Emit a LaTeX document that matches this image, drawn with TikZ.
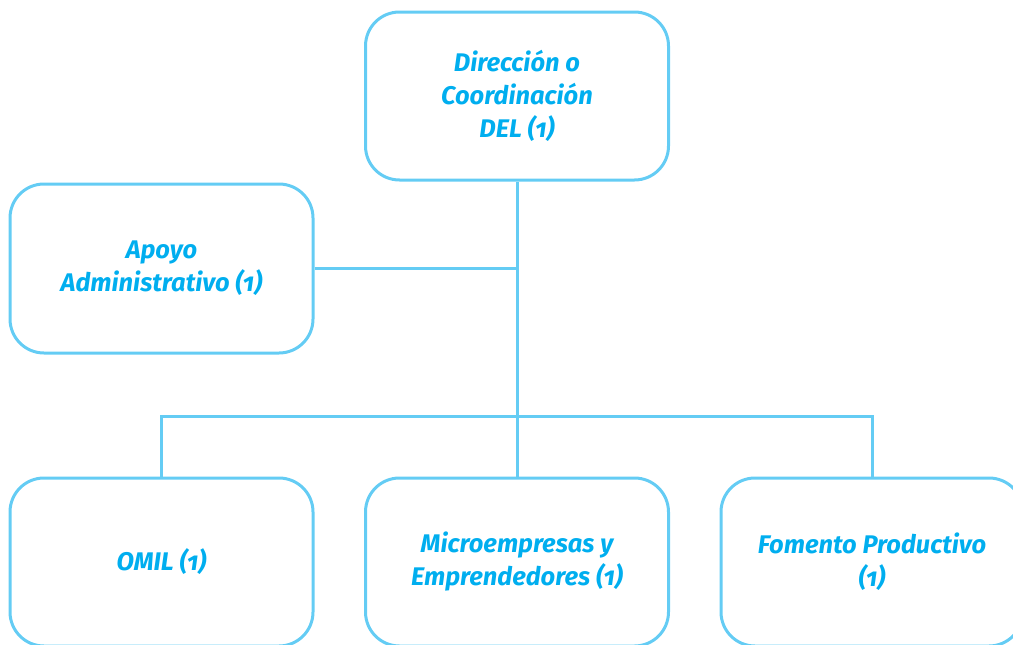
\documentclass[tikz,border=0pt]{standalone}
\usepackage{fontspec}
\setmainfont{Fira Sans}[Numbers=OldStyle]
\definecolor{boxline}{RGB}{100,204,244}
\definecolor{boxtext}{RGB}{0,174,239}
\tikzset{
  orgbox/.style={draw=boxline, line width=3pt, rounded corners=34pt,
    minimum width=303pt, minimum height=168pt, align=center,
    text=boxtext, font=\fontsize{25.5}{33}\selectfont\bfseries\itshape, inner sep=0pt},
  link/.style={draw=boxline, line width=3pt}
}
\begin{document}
\begin{tikzpicture}[x=1pt,y=-1pt]
\useasboundingbox (0,0) rectangle (1013,645);
\clip (0,0) rectangle (1013,645);
\node[orgbox] (dir) at (517,96) {Dirección o\\Coordinación\\DEL (1)};
\node[orgbox, minimum height=169pt] (apo) at (161.5,268.5) {Apoyo\\Administrativo (1)};
\node[orgbox] (omil) at (161.5,562) {OMIL (1)};
\node[orgbox] (mic) at (517,562) {Microempresas y\\Emprendedores (1)};
\node[orgbox, minimum width=302pt] (fom) at (872,562) {Fomento Productivo\\(1)};
\coordinate (jn) at (517,416);
\draw[link] (dir.south) -- (jn);
\draw[link] (apo.east) -- (apo.east -| dir.south);
\draw[link] (omil.north) |- (jn) -| (fom.north);
\draw[link] (jn) -- (mic.north);
\end{tikzpicture}
\end{document}
